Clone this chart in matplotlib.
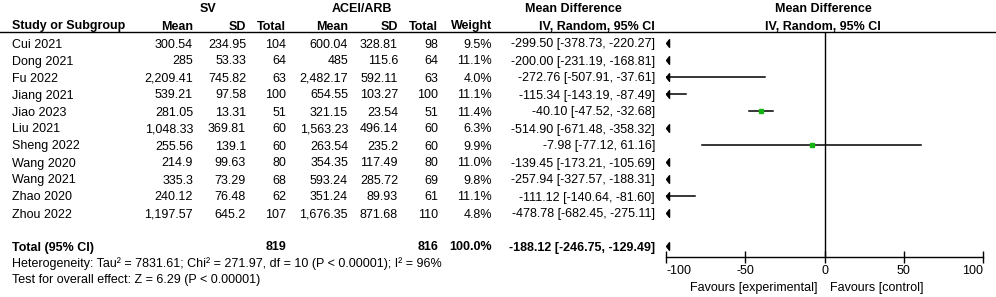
import numpy as np
import matplotlib
matplotlib.use("Agg")
import matplotlib.pyplot as plt
from matplotlib.lines import Line2D

plt.rcParams['font.family'] = ['Liberation Sans', 'DejaVu Sans']
plt.rcParams['font.size'] = 9
plt.rcParams['axes.unicode_minus'] = False

# data
studies = ["Cui 2021", "Dong 2021", "Fu 2022", "Jiang 2021", "Jiao 2023", "Liu 2021",
           "Sheng 2022", "Wang 2020", "Wang 2021", "Zhao 2020", "Zhou 2022"]
sv_mean = [300.54, 285, 2209.41, 539.21, 281.05, 1048.33, 255.56, 214.9, 335.3, 240.12, 1197.57]
sv_sd = [234.95, 53.33, 745.82, 97.58, 13.31, 369.81, 139.1, 99.63, 73.29, 76.48, 645.2]
sv_n = [104, 64, 63, 100, 51, 60, 60, 80, 68, 62, 107]
ace_mean = [600.04, 485, 2482.17, 654.55, 321.15, 1563.23, 263.54, 354.35, 593.24, 351.24, 1676.35]
ace_sd = [328.81, 115.6, 592.11, 103.27, 23.54, 496.14, 235.2, 117.49, 285.72, 89.93, 871.68]
ace_n = [98, 64, 63, 100, 51, 60, 60, 80, 69, 61, 110]
weight = [9.5, 11.1, 4.0, 11.1, 11.4, 6.3, 9.9, 11.0, 9.8, 11.1, 4.8]
md = [-299.50, -200.00, -272.76, -115.34, -40.10, -514.90, -7.98, -139.45, -257.94, -111.12, -478.78]
ci_lo = [-378.73, -231.19, -507.91, -143.19, -47.52, -671.48, -77.12, -173.21, -327.57, -140.64, -682.45]
ci_hi = [-220.27, -168.81, -37.61, -87.49, -32.68, -358.32, 61.16, -105.69, -188.31, -81.60, -275.11]
tot_sv_n = 819
tot_ace_n = 816
tot_md, tot_lo, tot_hi = -188.12, -246.75, -129.49
xticks = [-100, -50, 0, 50, 100]

W, H = 996, 297
fig = plt.figure(figsize=(W / 100, H / 100), dpi=100)
fig.patch.set_facecolor('white')

# background axes in pixel coordinates for the table text
bg = fig.add_axes([0, 0, 1, 1])
bg.set_xlim(0, W)
bg.set_ylim(H, 0)
bg.axis('off')

row0, dy = 43, 17
rows_y = [row0 + dy * i for i in range(len(studies))]
total_y = 246
VA = 'center_baseline'

# column right edges
c_study = 12
c_svm, c_svsd, c_svn = 193, 246, 286
c_am, c_asd, c_an = 348, 398, 438
c_w, c_md = 492, 655

def fmt(v):
    return f"{v:,}"

def ci_text(m, lo, hi):
    return f"{m:.2f} [{lo:.2f}, {hi:.2f}]"

# headers
bg.text(208, 8, "SV", ha='center', va=VA, fontweight='bold')
bg.text(362, 8, "ACEI/ARB", ha='center', va=VA, fontweight='bold')
bg.text(573, 8, "Mean Difference", ha='center', va=VA, fontweight='bold')
bg.text(823, 8, "Mean Difference", ha='center', va=VA, fontweight='bold')
hy = 25
bg.text(c_study, hy, "Study or Subgroup", ha='left', va=VA, fontweight='bold')
for x, s in [(c_svm, "Mean"), (c_svsd, "SD"), (c_svn, "Total"), (c_am, "Mean"),
             (c_asd, "SD"), (c_an, "Total"), (c_w, "Weight"), (c_md, "IV, Random, 95% CI")]:
    bg.text(x, hy, s, ha='right', va=VA, fontweight='bold')
bg.text(823, hy, "IV, Random, 95% CI", ha='center', va=VA, fontweight='bold')
bg.add_line(Line2D([0, W], [32, 32], color='black', lw=1))

# study rows
for i, y in enumerate(rows_y):
    bg.text(c_study, y, studies[i], ha='left', va=VA)
    bg.text(c_svm, y, fmt(sv_mean[i]), ha='right', va=VA)
    bg.text(c_svsd, y, fmt(sv_sd[i]), ha='right', va=VA)
    bg.text(c_svn, y, str(sv_n[i]), ha='right', va=VA)
    bg.text(c_am, y, fmt(ace_mean[i]), ha='right', va=VA)
    bg.text(c_asd, y, fmt(ace_sd[i]), ha='right', va=VA)
    bg.text(c_an, y, str(ace_n[i]), ha='right', va=VA)
    bg.text(c_w, y, f"{weight[i]:.1f}%", ha='right', va=VA)
    bg.text(c_md, y, ci_text(md[i], ci_lo[i], ci_hi[i]), ha='right', va=VA)

# total row
bg.text(c_study, total_y, "Total (95% CI)", ha='left', va=VA, fontweight='bold')
bg.text(c_svn, total_y, str(tot_sv_n), ha='right', va=VA, fontweight='bold')
bg.text(c_an, total_y, str(tot_ace_n), ha='right', va=VA, fontweight='bold')
bg.text(c_w, total_y, "100.0%", ha='right', va=VA, fontweight='bold')
bg.text(c_md, total_y, ci_text(tot_md, tot_lo, tot_hi), ha='right', va=VA, fontweight='bold')
bg.text(c_study, 262, "Heterogeneity: Tau\u00b2 = 7831.61; Chi\u00b2 = 271.97, df = 10 (P < 0.00001); I\u00b2 = 96%",
        ha='left', va=VA)
bg.text(c_study, 278, "Test for overall effect: Z = 6.29 (P < 0.00001)", ha='left', va=VA)

# forest plot axes
px_l, px_r, px_t, px_b = 666, 983, 32, 257
ax = fig.add_axes([px_l / W, 1 - px_b / H, (px_r - px_l) / W, (px_b - px_t) / H])
ax.set_xlim(-100, 100)
ax.set_ylim(px_b, px_t)
ax.patch.set_alpha(0)
for s in ['top', 'right', 'left']:
    ax.spines[s].set_visible(False)
ax.spines['bottom'].set_linewidth(1)
ax.set_yticks([])
ax.set_xticks(xticks)
ax.tick_params(axis='x', direction='inout', length=8, width=1, pad=2, labelsize=9)
labs = ax.get_xticklabels()
labs[0].set_ha('left')
labs[-1].set_ha('right')
ax.axvline(0, color='black', lw=1)

arrow_marker = [(0, 0), (1.2, 1.5), (1.2, -1.5), (0, 0)]
xmin, xmax = -100, 100
for i, y in enumerate(rows_y):
    lo, hi, m = ci_lo[i], ci_hi[i], md[i]
    if hi < xmin:
        ax.plot([xmin], [y], marker=arrow_marker, ms=5.5, color='black', clip_on=False)
        continue
    a = max(lo, xmin)
    b = min(hi, xmax)
    ax.plot([a, b], [y, y], color='black', lw=1.1)
    if lo < xmin:
        ax.plot([xmin], [y], marker=arrow_marker, ms=5.5, color='black', clip_on=False)
    if xmin <= m <= xmax:
        ax.plot([m], [y], marker='s', ms=3, color='#14b414', mec='#14b414')

# total diamond off-scale -> arrow
if tot_hi < xmin:
    ax.plot([xmin], [total_y], marker=arrow_marker, ms=5.5, color='black', clip_on=False)

bg.text(817, 287, "Favours [experimental]", ha='right', va=VA)
bg.text(830, 287, "Favours [control]", ha='left', va=VA)

fig.savefig("out.png", dpi=100, facecolor='white')
